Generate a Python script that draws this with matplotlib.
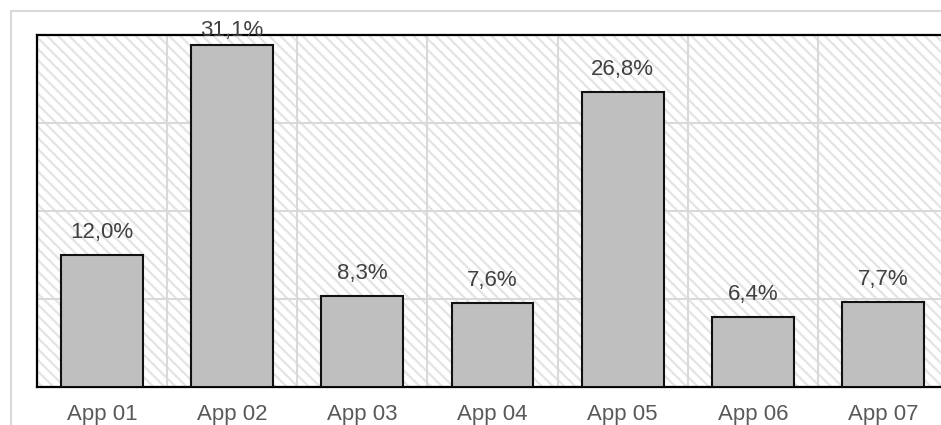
import matplotlib
matplotlib.use("Agg")
from matplotlib import pyplot as plt
from matplotlib.patches import Rectangle
from matplotlib.ticker import MultipleLocator

# share of usage per app (%)
apps = ["App 01", "App 02", "App 03", "App 04", "App 05", "App 06", "App 07"]
shares = [12.0, 31.1, 8.3, 7.6, 26.8, 6.4, 7.7]

plt.rcParams['font.family'] = ['Liberation Sans', 'DejaVu Sans']
plt.rcParams['hatch.linewidth'] = 1.6

W, H = 941, 425
fig = plt.figure(figsize=(W / 100, H / 100), dpi=100)
fig.patch.set_facecolor('white')

# light frame around the chart area
fig.add_artist(Rectangle((11 / W, -0.2), 1.2, 1.2 - 11 / H,
                         transform=fig.transFigure, fill=False,
                         edgecolor='#d9d9d9', linewidth=1.5))

ax = fig.add_axes([37 / W, 38 / H, 911 / W, 352 / H])
ax.set_facecolor('white')

# striped plot background
bg = Rectangle((0, 0), 1, 1, transform=ax.transAxes, facecolor='white',
               edgecolor='#e4e4e4', hatch='\\\\\\', linewidth=0, zorder=0)
ax.add_patch(bg)

x = range(len(apps))
ax.bar(x, shares, width=0.63, color='#bfbfbf', edgecolor='#111111',
       linewidth=1.5, zorder=3)

# value labels, kept inside the plot frame
for xi, v in zip(x, shares):
    y = min(v + 1.55, 31.9)
    ax.text(xi, y, f"{v:.1f}%".replace('.', ','), ha='center', va='baseline',
            fontsize=16, color='#404040', zorder=4)

ax.set_xlim(-0.5, 6.5)
ax.set_ylim(0, 32)
ax.set_xticks(list(x))
ax.set_xticklabels(apps, fontsize=16, color='#595959')
ax.xaxis.set_minor_locator(MultipleLocator(1, offset=0.5))
ax.yaxis.set_major_locator(MultipleLocator(8))
ax.set_yticklabels([])
ax.tick_params(axis='both', which='both', length=0)
ax.tick_params(axis='x', pad=12)

ax.grid(True, axis='y', which='major', color='#d9d9d9', linewidth=1.5, zorder=1)
ax.grid(True, axis='x', which='minor', color='#d9d9d9', linewidth=1.5, zorder=1)
ax.grid(False, axis='x', which='major')
ax.set_axisbelow(True)

for side in ['left', 'top', 'bottom']:
    ax.spines[side].set_color('black')
    ax.spines[side].set_linewidth(1.6)
ax.spines['right'].set_visible(False)

fig.savefig('out.png', dpi=100)
